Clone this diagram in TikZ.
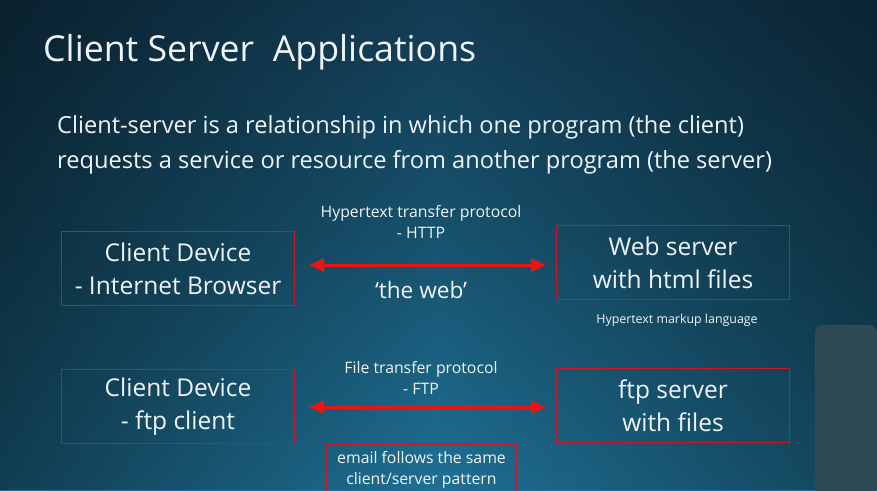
\documentclass[tikz,border=0pt]{standalone}
\usepackage{fontspec}
\setmainfont{Open Sans}
\usetikzlibrary{fadings,arrows.meta}
\definecolor{bgtop}{RGB}{19,60,84}
\definecolor{bgmid}{RGB}{24,84,112}
\definecolor{bgbot}{RGB}{31,112,148}
\definecolor{panel}{RGB}{47,73,85}
\definecolor{boxred}{RGB}{205,20,40}
\definecolor{arrowred}{RGB}{235,20,20}
\definecolor{txt}{RGB}{240,244,246}
\tikzfading[name=sidedark, left color=transparent!55, right color=transparent!60, middle color=transparent!100]
\tikzset{
  linkbox/.style={draw=boxred, line width=1.4pt, minimum width=233pt, minimum height=74pt, inner sep=0pt, text=txt, font=\fontsize{24.5}{33}\selectfont, align=center},
  note/.style={text=txt, font=\fontsize{15.8}{21}\selectfont, align=center, inner sep=0pt},
  link/.style={draw=arrowred, line width=3pt, {Triangle[length=15pt,width=13pt]}-{Triangle[length=15pt,width=13pt]}}
}
\begin{document}
\begin{tikzpicture}[x=1pt,y=-1pt]
\useasboundingbox (0,0) rectangle (877,490);
% background
\shade[top color=bgtop, bottom color=bgbot, middle color=bgmid] (0,0) rectangle (877,490);
\fill[black, path fading=sidedark] (0,0) rectangle (877,490);
\fill[panel, rounded corners=8pt] (815,325) -- (877,325) -- (877,495) -- (815,495) -- cycle;
% title and intro
\node[anchor=west, text=txt, font=\fontsize{35.7}{40}\selectfont, inner sep=0pt] (title) at (43,52) {Client Server\ \ Applications};
\node[anchor=west, text=txt, font=\fontsize{23.6}{35}\selectfont, align=left, inner sep=0pt] (intro) at (57,145) {Client-server is a relationship in which one program (the client)\\requests a service or resource from another program (the server)};
% boxes
\node[linkbox] (cweb) at (178,268.5) {Client Device\\- Internet Browser};
\node[linkbox] (sweb) at (673,262.5) {Web server\\with html files};
\node[linkbox] (cftp) at (178,406.5) {Client Device\\- ftp client};
\node[linkbox] (sftp) at (673,405.5) {ftp server\\with files};
\node[draw=boxred, line width=1.4pt, minimum width=190pt, minimum height=59pt, inner sep=0pt] (mail) at (421.5,474) {};
\node[note] (mailtxt) at (421.5,470) {email follows the same\\client/server pattern};
% connectors
\coordinate (wa) at (309,265);
\coordinate (wb) at (546,265);
\coordinate (fa) at (309,407);
\coordinate (fb) at (546,407);
\draw[link] (wa) -- (wb);
\draw[link] (fa) -- (fb);
% labels
\node[note] (http) at (421,222) {Hypertext transfer protocol\\- HTTP};
\node[note, font=\fontsize{22.6}{26}\selectfont] (web) at (421,290) {‘the web’};
\node[note, font=\fontsize{12.4}{14}\selectfont] (html) at (677,320) {Hypertext markup language};
\node[note] (ftp) at (421,378) {File transfer protocol\\- FTP};
\end{tikzpicture}
\end{document}
